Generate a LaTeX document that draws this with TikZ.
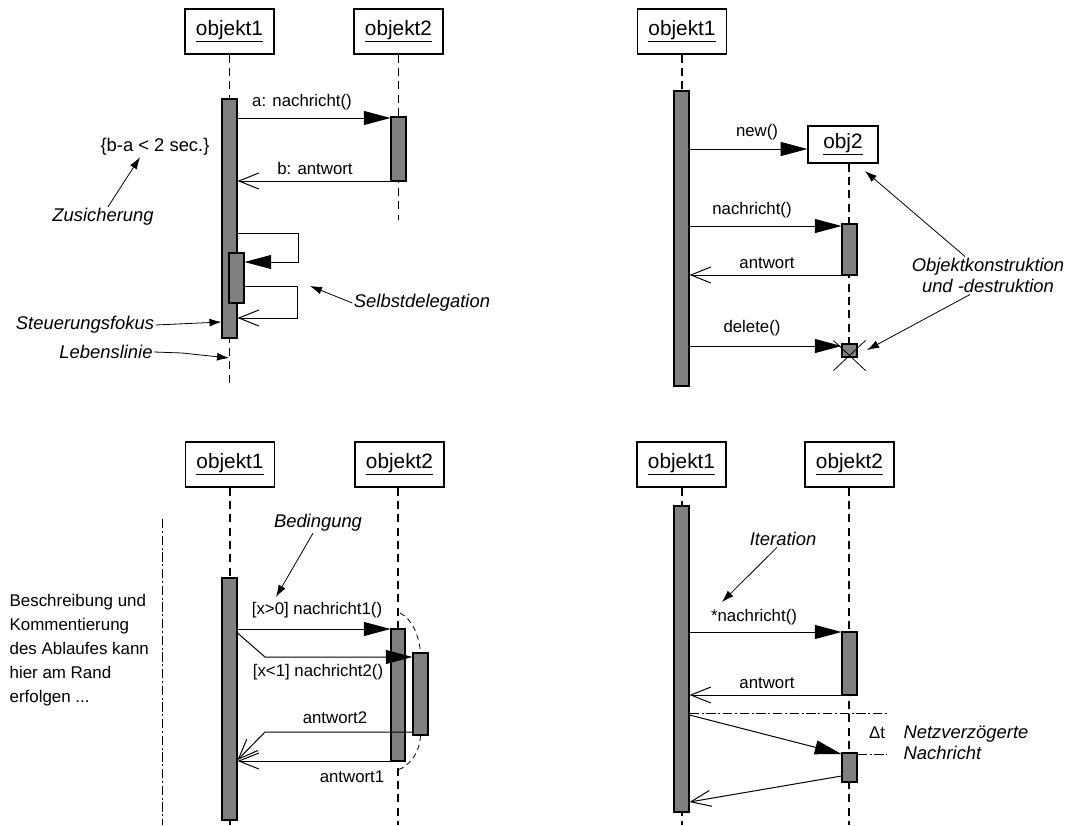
\documentclass[tikz,border=0pt]{standalone}
\usepackage{fontspec}
\setmainfont{Liberation Sans}
\usetikzlibrary{positioning,calc,fit,arrows.meta}

\newcommand{\objfont}{\fontsize{15.6}{18}\selectfont}
\newcommand{\msgfont}{\fontsize{12.6}{15}\selectfont}
\newcommand{\notefont}{\fontsize{13.8}{16}\selectfont\itshape}
\newcommand{\confont}{\fontsize{13.8}{16}\selectfont}
\newcommand{\descfont}{\fontsize{12.7}{18}\selectfont}

\begin{document}
\begin{tikzpicture}[x=0.75pt, y=-0.75pt,
    obj/.style={draw, line width=0.9pt, minimum width=66.75pt, minimum height=33.75pt, inner sep=0pt, font=\objfont},
    newobj/.style={obj, minimum width=52.5pt, minimum height=27.75pt},
    bar/.style={draw, line width=0.8pt, fill=gray, inner sep=0pt},
    life/.style={line width=0.9pt, dash pattern=on 6pt off 4pt},
    sync/.style={line width=0.75pt, -{Triangle[length=20pt,width=10.5pt]}},
    reply/.style={line width=0.75pt, -{Straight Barb[length=15pt,width=12pt]}},
    note/.style={line width=0.6pt, -{Latex[length=9pt,width=6pt]}},
    lbl/.style={font=\msgfont, inner sep=1pt},
    remark/.style={font=\notefont, inner sep=1pt},
    sep/.style={line width=0.7pt, dash pattern=on 7pt off 2pt on 1.5pt off 2pt},
    branch/.style={line width=0.6pt, dash pattern=on 4pt off 3pt}
]
\useasboundingbox (0,0) rectangle (1071,825);

% Top left: Zusicherung, Selbstdelegation
\begin{scope}[shift={(0,0)}]
    \node[obj] (tl-o1) at (229.5,31.5) {\underline{objekt1}};
    \node[obj] (tl-o2) at (398.5,31.5) {\underline{objekt2}};
    \coordinate (tl-e1) at (229.5,385);
    \coordinate (tl-e2) at (398.5,220);
    \draw[life] (tl-o1.south) -- (tl-e1);
    \draw[life] (tl-o2.south) -- (tl-e2);
    \node[bar, fit={(222,99) (237,338)}] (tl-a1) {};
    \node[bar, fit={(391,117) (406,181)}] (tl-a2) {};
    \node[bar, fit={(229,253) (244,303)}] (tl-a3) {};

    \draw[sync] (tl-a1.east |- 0,118) -- (tl-a2.west |- 0,118);
    \node[lbl] (tl-m1) at (302,102) {a: nachricht()};
    \draw[reply] (tl-a2.west |- 0,181) -- (tl-a1.east |- 0,181);
    \node[lbl] (tl-m2) at (315,168) {b: antwort};

    \draw[sync] (tl-a1.east |- 0,233) -| (298,262) -- (tl-a3.east |- 0,262);
    \draw[reply] (tl-a3.east |- 0,286) -| (297,318) -- (tl-a1.east |- 0,318);

    \node[font=\confont, inner sep=1pt] (tl-con) at (155,147) {\{b-a < 2 sec.\}};
    \node[remark] (tl-zus) at (103,217) {Zusicherung};
    \draw[note] ($(tl-zus.north)+(5,0)$) -- (tl-con.south -| 140,0);

    \node[remark] (tl-self) at (422,303) {Selbstdelegation};
    \coordinate (tl-self-t) at (310,286);
    \draw[note] (tl-self.west) -- (tl-self-t);

    \node[remark] (tl-steu) at (85,325) {Steuerungsfokus};
    \draw[note] (tl-steu.east) -- (tl-a1.west |- 0,322);

    \node[remark] (tl-leb) at (106,352) {Lebenslinie};
    \coordinate (tl-lp) at (229,358);
    \draw[note] (tl-leb.east) -- ++(28,1) -- (tl-lp);
\end{scope}

% Top right: Objektkonstruktion und -destruktion
\begin{scope}[shift={(452,0)}]
    \node[obj] (tr-o1) at (230,31.5) {\underline{objekt1}};
    \coordinate (tr-e1) at (230,92);
    \draw[life] (tr-o1.south) -- (tr-e1);
    \node[bar, fit={(222,91) (237,386)}] (tr-a1) {};
    \node[newobj] (tr-o2) at (391,144.5) {\underline{obj2}};
    \coordinate (tr-e2) at (397,344);
    \draw[life] (tr-o2.south -| tr-e2) -- (tr-e2);
    \node[bar, fit={(390,224) (405,275)}] (tr-a2) {};
    \node[bar, fit={(390,344) (405,357)}] (tr-x) {};

    \draw[sync] (tr-a1.east |- 0,149) -- (tr-o2.west |- 0,149);
    \node[lbl] (tr-m1) at (305,132) {new()};
    \draw[sync] (tr-a1.east |- 0,226) -- (tr-a2.west |- 0,226);
    \node[lbl] (tr-m2) at (300,210) {nachricht()};
    \draw[reply] (tr-a2.west |- 0,275) -- (tr-a1.east |- 0,275);
    \node[lbl] (tr-m3) at (315,263) {antwort};
    \draw[sync] (tr-a1.east |- 0,346) -- (tr-x.west |- 0,346);
    \node[lbl] (tr-m4) at (300,328) {delete()};

    \draw[line width=0.6pt] ($(tr-x.center)+(-16,-10)$) -- ($(tr-x.center)+(16,20)$);
    \draw[line width=0.6pt] ($(tr-x.center)+(16,-10)$) -- ($(tr-x.center)+(-16,20)$);

    \node[remark, align=center] (tr-ok) at (536,275.5) {Objektkonstruktion\\und -destruktion};
    \coordinate (tr-ok-t1) at (413,171);
    \coordinate (tr-ok-t2) at (415,350);
    \draw[note] (tr-ok.north -| 513,0) -- (tr-ok-t1);
    \draw[note] (tr-ok.south -| 518,0) -- (tr-ok-t2);
\end{scope}

% Bottom left: Bedingung, Verzweigung
\begin{scope}[shift={(0,433)}]
    \node[obj] (bl-o1) at (230,31.5) {\underline{objekt1}};
    \node[obj] (bl-o2) at (399.5,31.5) {\underline{objekt2}};
    \coordinate (bl-e1) at (230,392);
    \coordinate (bl-e2) at (398,392);
    \draw[life] (bl-o1.south) -- (bl-e1);
    \draw[life] (bl-o2.south -| bl-e2) -- (bl-e2);
    \draw[sep] (162,86) -- (162,392);

    \node[lbl, font=\descfont, align=left, anchor=west] (bl-desc) at (8,217.5)
        {Beschreibung und\\Kommentierung\\des Ablaufes kann\\hier am Rand\\erfolgen ...};

    \node[bar, fit={(222,145) (237,387)}] (bl-a1) {};
    \node[bar, fit={(391,196) (405,328)}] (bl-a2) {};
    \node[bar, fit={(413,220) (428,302)}] (bl-a3) {};
    \coordinate (bl-f1) at (400,180);
    \coordinate (bl-f2) at (398,337);
    \draw[branch] (bl-f1) .. controls (412,186) and (419,202) .. (bl-a3.north);
    \draw[branch] (bl-a3.south) .. controls (420,318) and (411,332) .. (bl-f2);

    \draw[sync] (bl-a1.east |- 0,196) -- (bl-a2.west |- 0,196);
    \node[lbl] (bl-m1) at (317,177) {[x>0] nachricht1()};
    \draw[sync] (bl-a1.east |- 0,200) -- (265,224) -- (bl-a3.west |- 0,224);
    \node[lbl] (bl-m2) at (318,239) {[x<1] nachricht2()};
    \draw[reply] (bl-a3.west |- 0,299) -- (265,299) -- (bl-a1.east |- 0,327);
    \node[lbl] (bl-m3) at (335,285) {antwort2};
    \draw[reply] (bl-a2.west |- 0,328) -- (bl-a1.east |- 0,328);
    \node[lbl] (bl-m4) at (352,344) {antwort1};

    \node[remark] (bl-bed) at (318,90) {Bedingung};
    \coordinate (bl-bt) at (276,164);
    \draw[note] (bl-bed.south -| 313,0) -- (bl-bt);
\end{scope}

% Bottom right: Iteration, Netzverzoegerung
\begin{scope}[shift={(452,433)}]
    \node[obj] (br-o1) at (229.5,31.5) {\underline{objekt1}};
    \node[obj] (br-o2) at (397.5,31.5) {\underline{objekt2}};
    \coordinate (br-e1) at (230,392);
    \coordinate (br-e2) at (397,392);
    \draw[life] (br-o1.south -| br-e1) -- (br-e1);
    \draw[life] (br-o2.south -| br-e2) -- (br-e2);
    \node[bar, fit={(222,73) (237,379)}] (br-a1) {};
    \node[bar, fit={(390,199) (405,262)}] (br-a2) {};
    \node[bar, fit={(390,320) (405,349)}] (br-a3) {};

    \draw[sync] (br-a1.east |- 0,199) -- (br-a2.west |- 0,199);
    \node[lbl] (br-m1) at (302,184) {*nachricht()};
    \draw[reply] (br-a2.west |- 0,262) -- (br-a1.east |- 0,262);
    \node[lbl] (br-m2) at (315,250) {antwort};

    \draw[sep] (br-a1.east |- 0,280) -- (435,280);
    \draw[sync] (br-a1.east |- 0,282) -- (br-a3.west |- 0,321);
    \draw[sep] (br-a3.east |- 0,321) -- (435,321);
    \draw[reply] (br-a3.west |- 0,343) -- (br-a1.east |- 0,369);

    \node[lbl] (br-dt) at (425,300) {Δt};
    \node[remark, align=left, anchor=west] (br-nv) at (450,310) {Netzverzögerte\\Nachricht};

    \node[remark] (br-it) at (331,106) {Iteration};
    \coordinate (br-itt) at (270,169);
    \draw[note] (br-it.south -| 325,0) -- (br-itt);
\end{scope}

\end{tikzpicture}
\end{document}
